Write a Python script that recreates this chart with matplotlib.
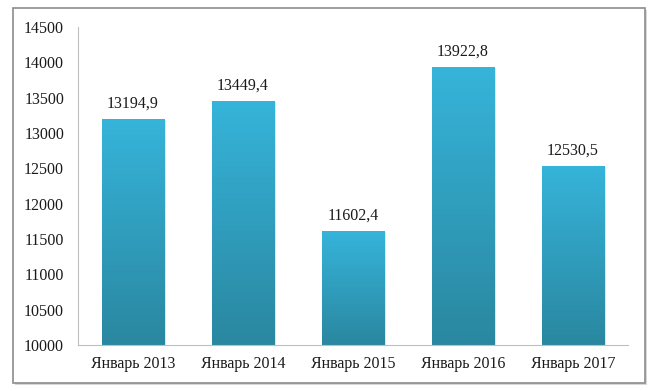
import numpy as np
import matplotlib.pyplot as plt
from matplotlib.patches import Rectangle
from matplotlib.colors import LinearSegmentedColormap

# ==========================
# DATA
# ==========================

categories = ["Январь 2013", "Январь 2014", "Январь 2015", "Январь 2016", "Январь 2017"]
values = [13194.9, 13449.4, 11602.4, 13922.8, 12530.5]
y_ticks = [10000, 10500, 11000, 11500, 12000, 12500, 13000, 13500, 14000, 14500]

plt.rcParams["font.family"] = ["Liberation Serif", "DejaVu Serif"]

fig = plt.figure(figsize=(6.55, 3.91), dpi=100)
ax = fig.add_axes([78 / 655, 1 - 345 / 391, 550 / 655, 318 / 391])

# outer frame with light shadow
fig.patches.append(Rectangle((15 / 655, 1 - 385 / 391), 632 / 655, 375 / 391,
                             transform=fig.transFigure, facecolor="#d8d8d8",
                             edgecolor="none", zorder=-2))
fig.patches.append(Rectangle((13 / 655, 1 - 383 / 391), 632 / 655, 375 / 391,
                             transform=fig.transFigure, facecolor="white",
                             edgecolor="#8c8c8c", linewidth=1.2, zorder=-1))

ymin, ymax = 10000, 14500
width = 0.57
cmap = LinearSegmentedColormap.from_list("bar", ["#2a87a0", "#36b4da"])
grad = np.linspace(0, 1, 256).reshape(-1, 1)

x = np.arange(len(categories))
for xi, v in zip(x, values):
    # shadow
    ax.add_patch(Rectangle((xi - width / 2 + 0.012, ymin), width, v - ymin - 8,
                           facecolor="#e4e4e4", edgecolor="none", zorder=1))
    ax.imshow(grad, extent=[xi - width / 2, xi + width / 2, ymin, v],
              origin="lower", aspect="auto", cmap=cmap, zorder=2)
    ax.text(xi, v + 110, f"{v:.1f}".replace(".", ","), ha="center", va="bottom",
            fontsize=11.5, color="#1a1a1a")

ax.set_xlim(-0.5, len(categories) - 0.5)
ax.set_ylim(ymin, ymax)
ax.set_yticks(y_ticks)
ax.set_yticklabels([str(t) for t in y_ticks])
ax.set_xticks(x)
ax.set_xticklabels(categories)
ax.tick_params(axis="both", length=0, labelsize=11.5, colors="#1a1a1a")
ax.tick_params(axis="y", pad=10)
ax.tick_params(axis="x", pad=8)

for side in ["top", "right"]:
    ax.spines[side].set_visible(False)
ax.spines["left"].set_color("#bfbfbf")
ax.spines["bottom"].set_color("#bfbfbf")
ax.set_facecolor("none")

fig.savefig("out.png", dpi=100)
